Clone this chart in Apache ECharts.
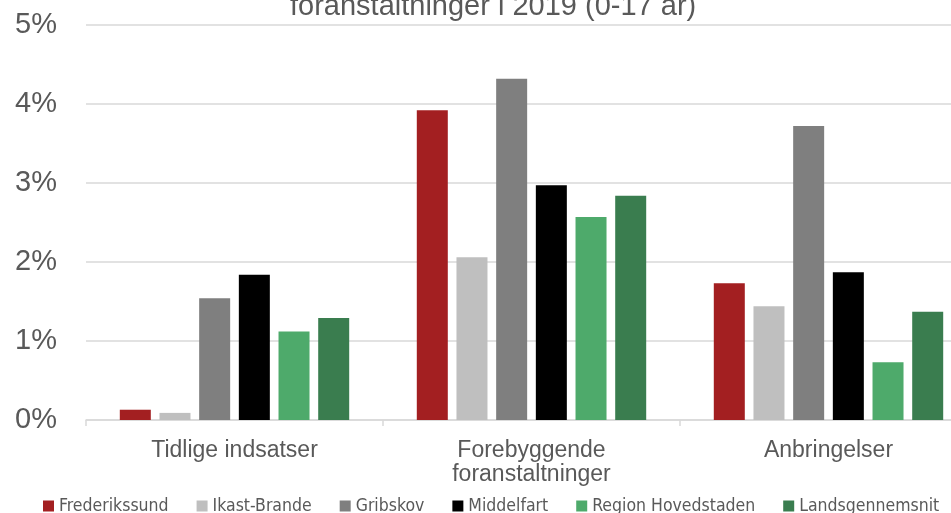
<!DOCTYPE html>
<html>
<head>
<meta charset="utf-8">
<script src="https://cdn.jsdelivr.net/npm/echarts@6/dist/echarts.min.js"></script>
<style>
  html, body { margin: 0; padding: 0; background: #fff; }
  #chart { width: 951px; height: 513px; }
</style>
</head>
<body>
<div id="chart"></div>
<script>
const categories = ['Tidlige indsatser', 'Forebyggende\nforanstaltninger', 'Anbringelser'];
const seriesNames = ['Frederikssund', 'Ikast-Brande', 'Gribskov', 'Middelfart', 'Region Hovedstaden', 'Landsgennemsnit'];
const frederikssund = [0.13, 3.92, 1.73];
const ikastBrande = [0.09, 2.06, 1.44];
const gribskov = [1.54, 4.32, 3.72];
const middelfart = [1.84, 2.97, 1.87];
const regionHovedstaden = [1.12, 2.57, 0.73];
const landsgennemsnit = [1.29, 2.84, 1.37];
const yTicks = [0, 1, 2, 3, 4, 5];

const colorList = ['#A31F21', '#BFBFBF', '#7F7F7F', '#000000', '#4EAA6B', '#3A7D4F'];
const labelColor = '#595959';
const gridColor = '#D9D9D9';
const values = [frederikssund, ikastBrande, gribskov, middelfart, regionHovedstaden, landsgennemsnit];

const chart = echarts.init(document.getElementById('chart'));
chart.setOption({
  animation: false,
  color: colorList,
  title: {
    text: 'foranstaltninger i 2019 (0-17 år)',
    left: 285,
    top: -13,
    textStyle: {
      color: labelColor,
      fontSize: 29,
      fontWeight: 'normal',
      fontFamily: 'Liberation Sans, Arial, sans-serif'
    }
  },
  legend: {
    data: seriesNames,
    left: 43,
    bottom: -2,
    width: 1400,
    padding: 0,
    icon: 'rect',
    itemWidth: 11,
    itemHeight: 11,
    itemGap: 28,
    textStyle: {
      color: labelColor,
      fontSize: 17.5,
      fontFamily: "'Liberation Sans Narrow', 'Arial Narrow', 'DejaVu Sans Condensed', sans-serif"
    }
  },
  grid: {
    left: 86,
    right: -26,
    top: 25,
    bottom: 93,
    containLabel: false,
    outerBoundsMode: 'none'
  },
  xAxis: {
    type: 'category',
    data: categories,
    axisLine: { show: true, lineStyle: { color: gridColor, width: 1.5 } },
    axisTick: { show: true, length: 6, lineStyle: { color: gridColor, width: 1.5 } },
    axisLabel: {
      color: labelColor,
      fontSize: 23,
      lineHeight: 24,
      margin: 19,
      interval: 0,
      fontFamily: 'Liberation Sans, Arial, sans-serif'
    }
  },
  yAxis: {
    type: 'value',
    min: yTicks[0],
    max: yTicks[yTicks.length - 1],
    interval: 1,
    axisLine: { show: false },
    axisTick: { show: false },
    splitLine: { show: true, lineStyle: { color: gridColor, width: 1.5 } },
    axisLabel: {
      color: labelColor,
      fontSize: 29,
      margin: 29,
      formatter: '{value}%',
      fontFamily: 'Liberation Sans, Arial, sans-serif'
    }
  },
  series: seriesNames.map((name, i) => ({
    name: name,
    type: 'bar',
    data: values[i],
    barWidth: 31,
    barGap: '28%'
  }))
});
</script>
</body>
</html>
